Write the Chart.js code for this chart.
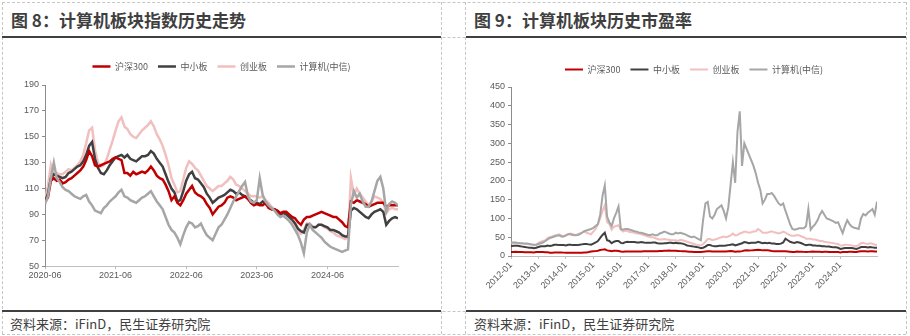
<!DOCTYPE html>
<html>
<head>
<meta charset="utf-8">
<script src="https://cdn.jsdelivr.net/npm/chart.js@4.4.1/dist/chart.umd.min.js"></script>
<style>
  body { margin: 0; width: 910px; height: 336px; background: #fff; position: relative; overflow: hidden;
         font-family: "Noto Sans CJK SC", "Liberation Sans", sans-serif; }
  .dh { position: absolute; left: 2px; width: 904px; height: 0; border-top: 1px dashed #c6c6c6; }
  .dv { position: absolute; top: 2px; height: 332px; width: 0; border-left: 1px dashed #c6c6c6; }
  .rule { position: absolute; height: 2px; background: #404040; }
  .title { position: absolute; top: 7px; font-size: 17px; font-weight: bold; color: #3f3f3f; white-space: nowrap; }
  .src { position: absolute; top: 314px; font-size: 13px; color: #404040; white-space: nowrap; }
  .box { position: absolute; }
</style>
</head>
<body>
<div class="dh" style="top:2px"></div>
<div class="dh" style="top:37px"></div>
<div class="dh" style="top:311px"></div>
<div class="dh" style="top:334px"></div>
<div class="dv" style="left:2px"></div>
<div class="dv" style="left:441px"></div>
<div class="dv" style="left:465px"></div>
<div class="dv" style="left:906px"></div>
<div class="rule" style="left:2px;width:439px;top:36px"></div>
<div class="rule" style="left:466px;width:440px;top:36px"></div>
<div class="rule" style="left:2px;width:439px;top:310px"></div>
<div class="rule" style="left:466px;width:440px;top:310px"></div>

<div class="title" style="left:11px">图 8：计算机板块指数历史走势</div>
<div class="title" style="left:474px">图 9：计算机板块历史市盈率</div>
<div class="src" style="left:10px">资料来源：iFinD，民生证券研究院</div>
<div class="src" style="left:474px">资料来源：iFinD，民生证券研究院</div>

<div class="box" style="left:5px;top:52px;width:400px;height:230px"><canvas id="idxChart"></canvas></div>
<div class="box" style="left:470px;top:55px;width:412px;height:237px"><canvas id="peChart"></canvas></div>

<script>
const seriesNames = ['沪深300', '中小板', '创业板', '计算机(中信)'];
const seriesColors = ['#c00000', '#404040', '#f2bfbf', '#a6a6a6'];

// 图8: index, half-month steps from 2020-06
const idxTicks = ['2020-06', '2021-06', '2022-06', '2023-06', '2024-06'];
const hs300Idx = [100,103,116,118,116,117,114,115,117,118,120,122,124,127,132,139,135,128,127,128,129,130,131,133,134,133,132,122,122,120,123,121,122,123,122,124,127,124,120,118,117,113,108,101,104,99,97,101,106,109,112,107,105,104,102,98,95,90,93,96,97,99,103,104,103,101,102,103,104,102,99,97,98,97,97,99,95,94,94,93,91,92,92,90,88,87,84,82,86,88,88,89,90,91,92,91,90,89,88,88,86,84,81,80,100,99,101,100,99,98,96,97,98,99,99,99,96,97,97,97,97];
const zxbIdx = [100,106,118,121,120,119,118,119,122,123,125,127,128,131,136,143,146,133,126,122,121,124,128,131,134,135,136,134,136,133,132,131,133,135,135,136,139,137,133,130,127,121,115,110,107,100,101,108,116,121,123,118,117,114,111,106,103,99,101,103,104,105,107,109,108,106,107,105,104,102,101,99,99,98,100,98,96,94,94,92,90,91,90,88,86,83,79,77,76,82,82,80,80,82,82,81,80,78,78,77,76,74,73,73,93,95,94,92,90,88,87,90,92,93,94,92,82,85,87,88,87];
const cybIdx = [100,112,128,120,122,121,121,123,125,124,126,128,131,136,145,155,157,140,130,127,128,133,140,147,155,162,165,158,156,152,150,149,152,155,157,159,162,158,152,148,143,136,128,118,113,107,108,117,126,131,129,126,124,120,116,112,110,108,110,112,112,114,116,119,117,113,112,110,108,106,104,104,104,103,104,101,99,96,94,92,90,91,90,88,85,82,77,75,78,83,83,81,80,82,82,80,79,77,76,74,73,72,71,72,118,105,110,106,103,100,97,100,104,103,102,99,91,94,95,94,94];
const jsjIdx = [98,104,118,130,118,115,111,109,108,106,104,103,102,104,105,100,97,93,92,91,95,97,100,102,104,107,109,104,103,101,100,99,101,103,104,106,108,104,100,97,94,88,82,78,76,72,67,74,80,84,83,80,81,83,78,74,72,70,75,80,82,86,90,95,100,104,108,112,115,104,100,99,101,118,105,100,97,95,93,90,88,89,87,85,82,78,74,68,60,76,82,78,76,74,72,69,67,65,64,63,62,61,62,63,98,108,103,106,100,96,96,100,108,116,119,110,92,98,100,99,97];

// 图9: PE, monthly from 2012-01
const peTicks = ['2012-01','2013-01','2014-01','2015-01','2016-01','2017-01','2018-01','2019-01','2020-01','2021-01','2022-01','2023-01','2024-01','2025-01'];
const hs300PE = [
  11,11,11.5,11,11,10.5,10,10,10,10,9.5,10.5,
  11,11,10.5,10,10,9,9,9.5,9.5,9.5,9.5,9,
  8.5,8.5,8.5,8.5,8.5,8.5,9,9,9.5,9.5,10.5,12,
  12.5,13,14,16,17,18,15,14,13,14,14,13.5,
  12,11.5,12,12,12,12,12,12,12,12,12.5,12.5,
  13,13,13,13,13,13.5,13.5,14,14,14.5,14,14,
  14,13.5,13,12.5,12.5,12,11.5,11.5,11,11,11,10.5,
  11.5,12,12.5,12.5,12,12,12,12,12,12,12,12.5,
  13,12.5,11.5,12,12,13,14.5,15,14.5,15,15.5,16,
  16.5,16,15,15,15,14.5,13.5,13,13,13,13,13,
  12.5,12,11.5,11,11,12,11.5,11.5,11,10.5,11,11.5,
  12,11.5,11.5,11.5,11,11.5,11.5,11,11,10.5,10.5,10.5,
  9.5,10.5,11,11,11.5,11.5,11,11,12,12.5,12.5,12.5,
  12,12.5,12.5,12,12];
const zxbPE = [
  26,27,27,27,26,25,24,23,22,22,21,22,
  24,26,26,26,28,27,28,30,30,29,29,29,
  28,30,30,29,29,29,30,31,32,32,31,30,
  33,36,40,48,56,62,42,40,34,38,40,40,
  35,34,37,38,37,37,37,36,36,37,36,35,
  35,35,36,36,34,33,33,34,34,35,35,34,
  35,34,34,33,31,28,27,26,25,24,23,21,
  22,25,29,29,27,26,26,27,27,27,28,29,
  30,31,28,30,32,34,37,36,34,35,35,35,
  38,36,34,35,34,35,33,33,32,32,33,36,
  46,42,38,36,35,37,36,34,31,29,30,30,
  28,28,27,27,26,26,25,25,24,23,23,22,
  19,20,21,21,21,21,20,19,21,24,24,24,
  23,24,23,22,22];
const cybPE = [
  35,35,34,34,34,33,32,32,31,30,28,29,
  35,38,40,42,48,50,52,55,56,58,55,52,
  55,58,60,58,56,57,60,62,65,62,60,58,
  65,72,85,100,120,135,90,85,70,78,80,82,
  70,65,68,66,64,63,62,60,60,58,56,54,
  52,50,50,48,45,44,44,45,44,43,42,42,
  42,40,43,42,40,38,36,34,32,30,29,28,
  32,38,45,45,42,44,45,48,50,52,50,52,
  55,60,55,56,60,62,65,64,62,63,65,66,
  72,68,62,62,62,64,66,63,62,60,62,65,
  62,58,55,54,54,56,55,52,50,46,46,46,
  44,44,42,40,40,38,37,36,35,34,33,32,
  28,28,30,30,29,28,27,26,29,34,35,33,
  32,34,33,30,30];
const jsjPE = [
  35,36,36,35,34,34,33,33,32,31,30,30,
  32,34,36,40,44,48,50,52,54,55,52,52,
  55,58,58,56,55,56,58,62,66,68,70,72,
  75,80,85,110,160,188,105,90,80,100,115,132,
  72,70,72,72,70,68,66,65,62,62,60,58,
  56,56,58,55,55,60,62,65,63,60,58,58,
  62,60,62,60,58,55,52,50,52,48,45,42,
  97,140,144,105,100,110,125,130,135,120,100,130,
  190,250,195,330,385,240,300,285,270,255,240,220,
  195,176,140,150,165,165,168,160,150,140,135,140,
  120,103,85,72,70,72,74,74,74,80,125,70,
  78,85,95,110,120,110,100,98,95,92,88,90,
  75,61,80,95,85,78,75,74,72,100,112,108,
  115,120,125,110,145];

const tickFont = { family: "'Liberation Sans', 'Noto Sans CJK SC', sans-serif", size: 9 };
const drawOrder = [2, 3, 4, 1]; // gray on top, pink at bottom

// push the plot down a little under the legend
const legendGap = {
  id: 'legendGap',
  beforeInit(chart, args, opts) {
    const fit = chart.legend.fit;
    chart.legend.fit = function () {
      fit.bind(chart.legend)();
      this.height += opts.extra || 0;
    };
  }
};

function makeDatasets(list, step, width) {
  return list.map((vals, k) => ({
    label: seriesNames[k],
    data: vals.map((v, i) => ({ x: i * step, y: v })),
    borderColor: seriesColors[k],
    backgroundColor: seriesColors[k],
    borderWidth: width,
    pointRadius: 0,
    tension: 0,
    order: drawOrder[k]
  }));
}

function makeChart(id, datasets, xMax, tickLabels, rotate, yMin, yMax, yStep, yWidth, padRight, gap) {
  new Chart(document.getElementById(id), {
    type: 'line',
    data: { datasets: datasets },
    plugins: [legendGap],
    options: {
      responsive: true,
      maintainAspectRatio: false,
      animation: false,
      layout: { padding: { right: padRight, top: 0, bottom: 0, left: 0 } },
      plugins: {
        legendGap: { extra: gap },
        tooltip: { enabled: false },
        legend: {
          position: 'top',
          fullSize: false,
          labels: {
            usePointStyle: true,
            pointStyle: 'line',
            pointStyleWidth: 18,
            boxHeight: 9,
            padding: 10,
            color: '#595959',
            font: { family: "'Noto Sans CJK SC', sans-serif", size: 9 },
            sort: (a, b) => a.datasetIndex - b.datasetIndex
          }
        }
      },
      scales: {
        x: {
          type: 'linear',
          min: 0,
          max: xMax,
          afterBuildTicks: s => { s.ticks = s.ticks.filter(t => t.value % 12 === 0 && t.value / 12 < tickLabels.length); },
          ticks: {
            stepSize: 12,
            autoSkip: false,
            maxRotation: rotate,
            minRotation: rotate,
            padding: 1,
            color: '#595959',
            font: tickFont,
            callback: v => tickLabels[v / 12] || ''
          },
          grid: { drawOnChartArea: false, drawTicks: true, tickLength: 3, color: '#bfbfbf' },
          border: { color: '#bfbfbf' }
        },
        y: {
          min: yMin,
          max: yMax,
          afterFit: s => { s.width = yWidth; },
          ticks: { stepSize: yStep, padding: 3, color: '#595959', font: tickFont },
          grid: { drawOnChartArea: false, drawTicks: true, tickLength: 3, color: '#8c8c8c' },
          border: { color: '#8c8c8c' }
        }
      }
    }
  });
}

makeChart('idxChart', makeDatasets([hs300Idx, zxbIdx, cybIdx, jsjIdx], 0.5, 2.5),
  60, idxTicks, 0, 50, 190, 20, 40, 7, 4);
makeChart('peChart', makeDatasets([hs300PE, zxbPE, cybPE, jsjPE], 1, 2),
  160, peTicks, 45, 0, 450, 50, 41, 5, 3);
</script>
</body>
</html>
